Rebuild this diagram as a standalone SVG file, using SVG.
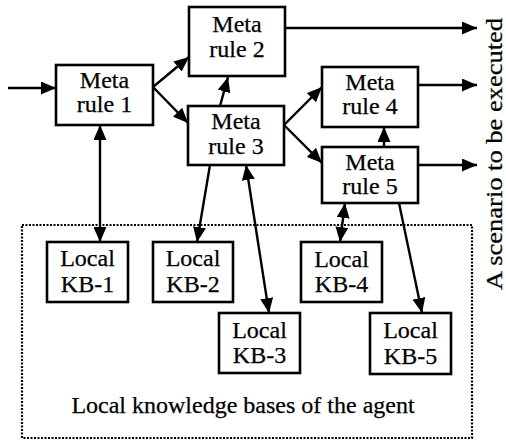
<svg xmlns="http://www.w3.org/2000/svg" width="506" height="440" viewBox="0 0 506 440" font-family="'Liberation Serif', 'DejaVu Serif', 'Times New Roman', serif">
  <defs>
    <marker id="head" viewBox="0 0 15 13" refX="15" refY="6.5" markerWidth="15" markerHeight="13" markerUnits="userSpaceOnUse" orient="auto-start-reverse">
      <path d="M0,0 L15,6.5 L0,13 Z" fill="#000"/>
    </marker>
  </defs>
  <style>
    .box { fill: #fff; stroke: #000; stroke-width: 2.6; }
    .lbl { font-family: 'Liberation Serif', 'DejaVu Serif', 'Times New Roman', serif; font-size: 24px; fill: #000; text-anchor: middle; stroke: #000; stroke-width: 0.25; }
    .edge { fill: none; stroke: #000; stroke-width: 2.4; }
    .one { marker-end: url(#head); }
    .two { marker-start: url(#head); marker-end: url(#head); }
  </style>
  <rect width="506" height="440" fill="#fff"/>

  <!-- dotted container for the local knowledge bases -->
  <g id="kb-area">
    <rect x="22" y="225" width="450" height="213" fill="none" stroke="#000" stroke-width="2.2" stroke-dasharray="2 1.5"/>
    <text class="lbl" x="243" y="413">Local knowledge bases of the agent</text>
  </g>

  <g id="connectors">
    <line class="edge one" x1="8" y1="88" x2="56" y2="88"/>
    <line class="edge one" x1="153" y1="87" x2="189" y2="57"/>
    <line class="edge one" x1="153" y1="87" x2="188" y2="123"/>
    <line class="edge one" x1="220" y1="106" x2="228" y2="77"/>
    <line class="edge one" x1="284" y1="125" x2="322" y2="87"/>
    <line class="edge one" x1="284" y1="125" x2="322" y2="163"/>
    <line class="edge one" x1="384" y1="147" x2="384" y2="127"/>
    <line class="edge one" x1="285" y1="28" x2="477" y2="28"/>
    <line class="edge one" x1="418" y1="85" x2="477" y2="85"/>
    <line class="edge one" x1="418" y1="165" x2="477" y2="165"/>
    <line class="edge two" x1="100" y1="125" x2="100" y2="242"/>
    <line class="edge one" x1="210" y1="165" x2="197" y2="242"/>
    <line class="edge two" x1="246" y1="165" x2="269" y2="313"/>
    <line class="edge two" x1="345" y1="203" x2="340" y2="242"/>
    <line class="edge one" x1="399" y1="203" x2="422" y2="313"/>
  </g>

  <g id="meta-rule-1">
    <rect class="box" x="56" y="65" width="97" height="60"/>
    <text class="lbl" x="104.5" y="88">Meta</text>
    <text class="lbl" x="104.5" y="112">rule 1</text>
  </g>
  <g id="meta-rule-2">
    <rect class="box" x="189" y="7" width="96" height="69"/>
    <text class="lbl" x="237" y="32">Meta</text>
    <text class="lbl" x="237" y="57">rule 2</text>
  </g>
  <g id="meta-rule-3">
    <rect class="box" x="188" y="106" width="96" height="59"/>
    <text class="lbl" x="236" y="129">Meta</text>
    <text class="lbl" x="236" y="154">rule 3</text>
  </g>
  <g id="meta-rule-4">
    <rect class="box" x="322" y="67" width="96" height="60"/>
    <text class="lbl" x="370" y="90">Meta</text>
    <text class="lbl" x="370" y="114">rule 4</text>
  </g>
  <g id="meta-rule-5">
    <rect class="box" x="322" y="147" width="96" height="56"/>
    <text class="lbl" x="370" y="170">Meta</text>
    <text class="lbl" x="370" y="194">rule 5</text>
  </g>

  <g id="kb-1">
    <rect class="box" x="47" y="242" width="81" height="60"/>
    <text class="lbl" x="87.5" y="266">Local</text>
    <text class="lbl" x="87.5" y="292">KB-1</text>
  </g>
  <g id="kb-2">
    <rect class="box" x="153" y="242" width="80" height="60"/>
    <text class="lbl" x="193" y="266">Local</text>
    <text class="lbl" x="193" y="292">KB-2</text>
  </g>
  <g id="kb-3">
    <rect class="box" x="219" y="313" width="81" height="60"/>
    <text class="lbl" x="259.5" y="338">Local</text>
    <text class="lbl" x="259.5" y="363">KB-3</text>
  </g>
  <g id="kb-4">
    <rect class="box" x="301" y="242" width="81" height="60"/>
    <text class="lbl" x="341.5" y="267">Local</text>
    <text class="lbl" x="341.5" y="292">KB-4</text>
  </g>
  <g id="kb-5">
    <rect class="box" x="370" y="313" width="81" height="61"/>
    <text class="lbl" x="410.5" y="338">Local</text>
    <text class="lbl" x="410.5" y="364">KB-5</text>
  </g>

  <g id="output-label">
    <text class="lbl" transform="translate(502,154) rotate(-90)" textLength="272" lengthAdjust="spacingAndGlyphs">A scenario to be executed</text>
  </g>
</svg>
